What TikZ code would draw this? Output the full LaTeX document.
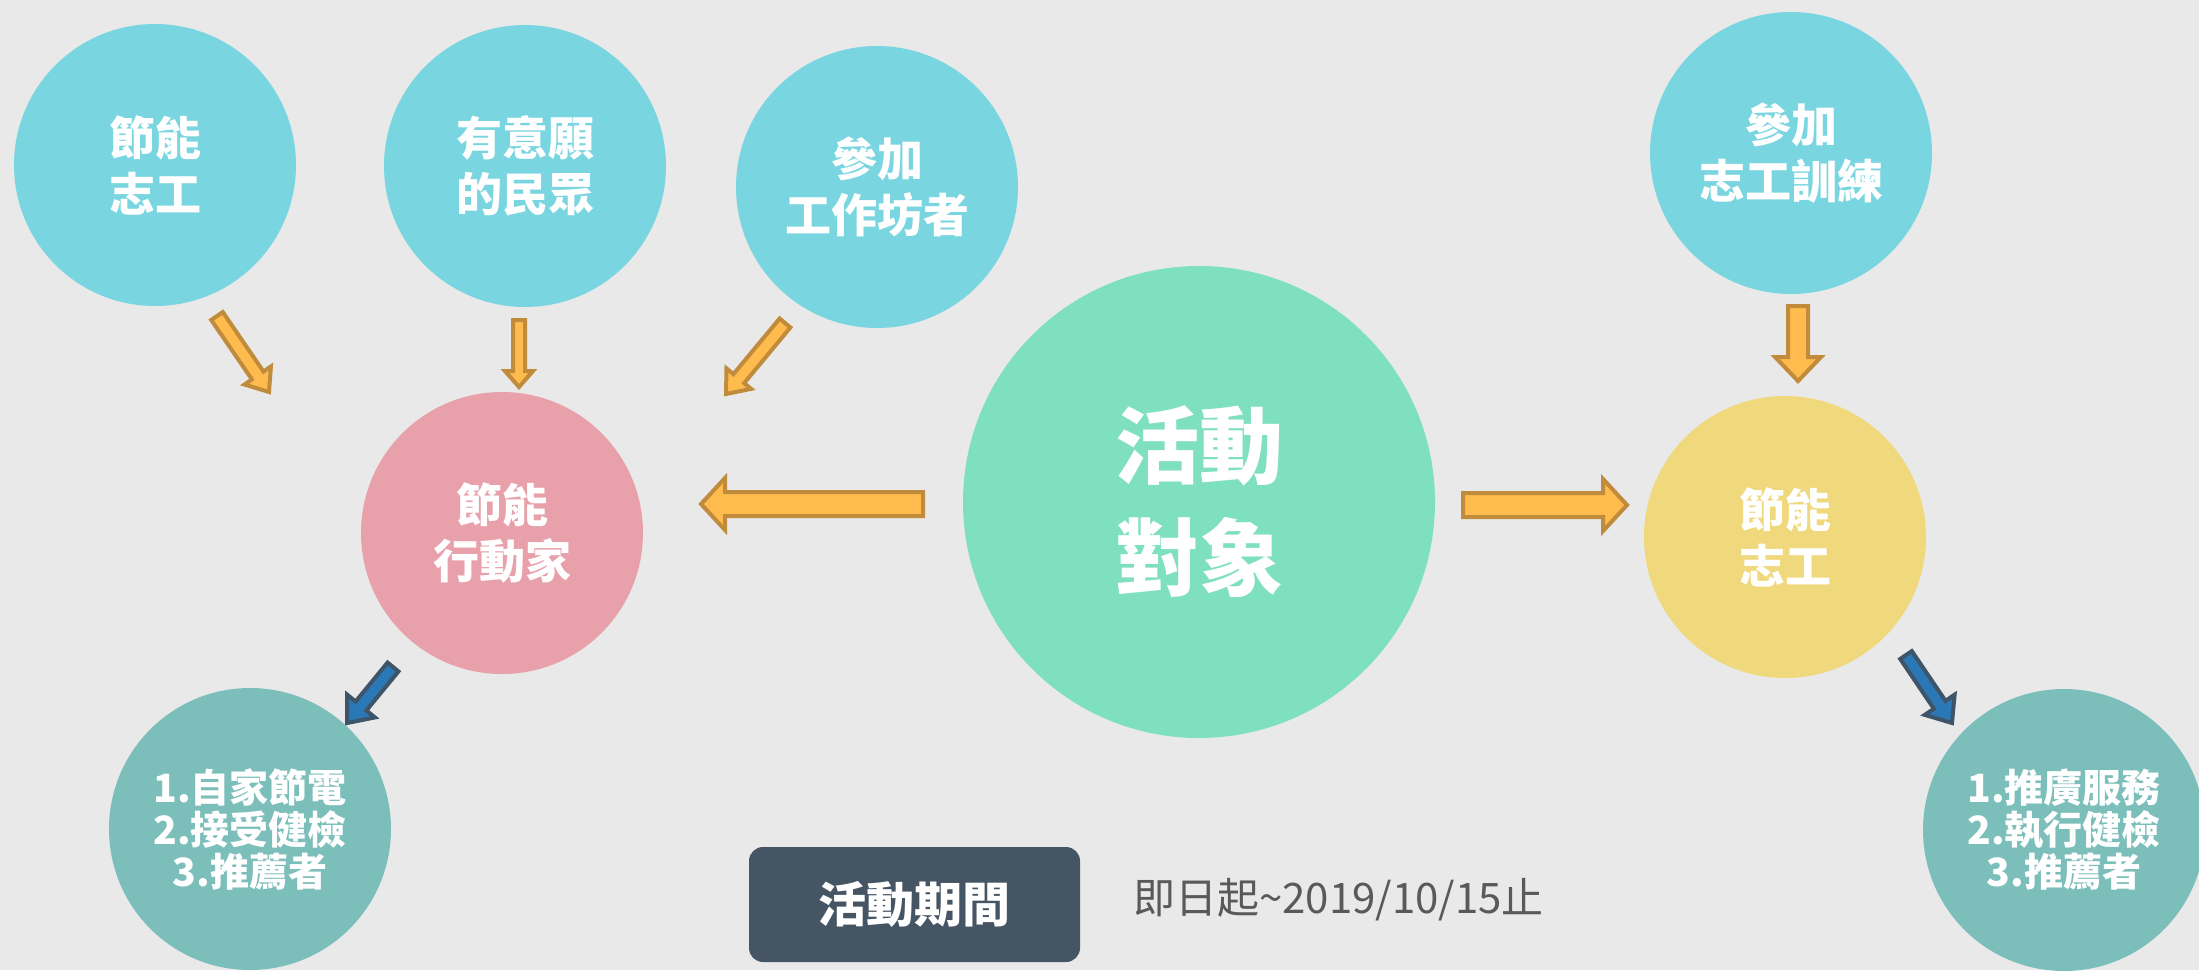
\documentclass[tikz,border=0pt]{standalone}
\usepackage{fontspec}
\newfontfamily\cjk{Noto Sans CJK TC}
\usetikzlibrary{calc}
\definecolor{bg}{HTML}{E9E9E9}
\definecolor{cyanc}{HTML}{79D6E0}
\definecolor{mintc}{HTML}{7EE0BF}
\definecolor{pinkc}{HTML}{E8A1AA}
\definecolor{yellowc}{HTML}{F0D87C}
\definecolor{tealc}{HTML}{7BBEBA}
\definecolor{orfill}{HTML}{FFBB4D}
\definecolor{orline}{HTML}{C08C3C}
\definecolor{blfill}{HTML}{2A78B6}
\definecolor{blline}{HTML}{3E5468}
\definecolor{boxc}{HTML}{465564}
\definecolor{datec}{HTML}{595959}
\newcommand\blockarr[6]{%
  \coordinate (ba-h) at ($(#3)!#6!(#2)$);
  \draw[#1] ($(#2)!#4!90:(#3)$) -- ($(ba-h)!#4!-90:(#2)$) -- ($(ba-h)!#5!-90:(#2)$) -- (#3) -- ($(ba-h)!#5!90:(#2)$) -- ($(ba-h)!#4!90:(#2)$) -- ($(#2)!#4!-90:(#3)$) -- cycle;
}
\tikzset{
  circ/.style={circle, draw=none, inner sep=0pt, minimum size=282pt, text=white, align=center,
    font=\cjk\bfseries\fontsize{46}{56}\selectfont},
  bigcirc/.style={circ, minimum size=472pt, font=\cjk\bfseries\fontsize{84}{112}\selectfont},
  listcirc/.style={circ, font=\cjk\bfseries\fontsize{39}{42}\selectfont},
  orarr/.style={fill=orfill, draw=orline, line width=4pt},
  blarr/.style={fill=blfill, draw=blline, line width=4pt},
}
\begin{document}
\begin{tikzpicture}[x=1pt,y=-1pt]
\useasboundingbox (0,0) rectangle (2199,970);
\clip (0,0) rectangle (2199,970);
\fill[bg] (0,0) rectangle (2199,970);

\node[circ, fill=cyanc] (c1) at (155,165) {節能\\志工};
\node[circ, fill=cyanc] (c2) at (525,166) {有意願\\的民眾};
\node[circ, fill=cyanc] (c3) at (877,187) {參加\\工作坊者};
\node[circ, fill=cyanc] (c4) at (1791,153) {參加\\志工訓練};
\node[bigcirc, fill=mintc] (c5) at (1199,502) {活動\\對象};
\node[circ, fill=pinkc] (c6) at (502,533) {節能\\行動家};
\node[circ, fill=yellowc] (c7) at (1785,537) {節能\\志工};
\node[listcirc, fill=tealc] (c8) at (250,829) {1.自家節電\\2.接受健檢\\3.推薦者};
\node[listcirc, fill=tealc] (c9) at (2064,830) {1.推廣服務\\2.執行健檢\\3.推薦者};

\coordinate (a1t) at (217,316); \coordinate (a1p) at (269,392);
\coordinate (a2t) at (519,320); \coordinate (a2p) at (519,387);
\coordinate (a3t) at (785,323); \coordinate (a3p) at (726,394);
\coordinate (a4t) at (923,504); \coordinate (a4p) at (701,504);
\coordinate (a5t) at (1463,505); \coordinate (a5p) at (1627,505);
\coordinate (a6t) at (1798,306); \coordinate (a6p) at (1798,381);
\coordinate (b1t) at (393,667); \coordinate (b1p) at (347,723);
\coordinate (b2t) at (1906,655); \coordinate (b2p) at (1952,723);

\blockarr{orarr}{a1t}{a1p}{7pt}{16pt}{20pt}
\blockarr{orarr}{a2t}{a2p}{6pt}{14pt}{16pt}
\blockarr{orarr}{a3t}{a3p}{7pt}{16pt}{20pt}
\blockarr{orarr}{a4t}{a4p}{12pt}{26pt}{24pt}
\blockarr{orarr}{a5t}{a5p}{12pt}{26pt}{24pt}
\blockarr{orarr}{a6t}{a6p}{10pt}{23pt}{24pt}
\blockarr{blarr}{b1t}{b1p}{7pt}{18pt}{22pt}
\blockarr{blarr}{b2t}{b2p}{7pt}{18pt}{22pt}

\node[fill=boxc, rounded corners=14pt, minimum width=331pt, minimum height=115pt, inner sep=0pt,
  text=white, font=\cjk\bfseries\fontsize{48}{56}\selectfont] (period) at (914.5,904.5) {活動期間};
\node[anchor=west, inner sep=0pt, text=datec, font=\cjk\fontsize{42}{48}\selectfont] (date) at (1133,900) {即日起\textasciitilde 2019/10/15止};
\end{tikzpicture}
\end{document}
